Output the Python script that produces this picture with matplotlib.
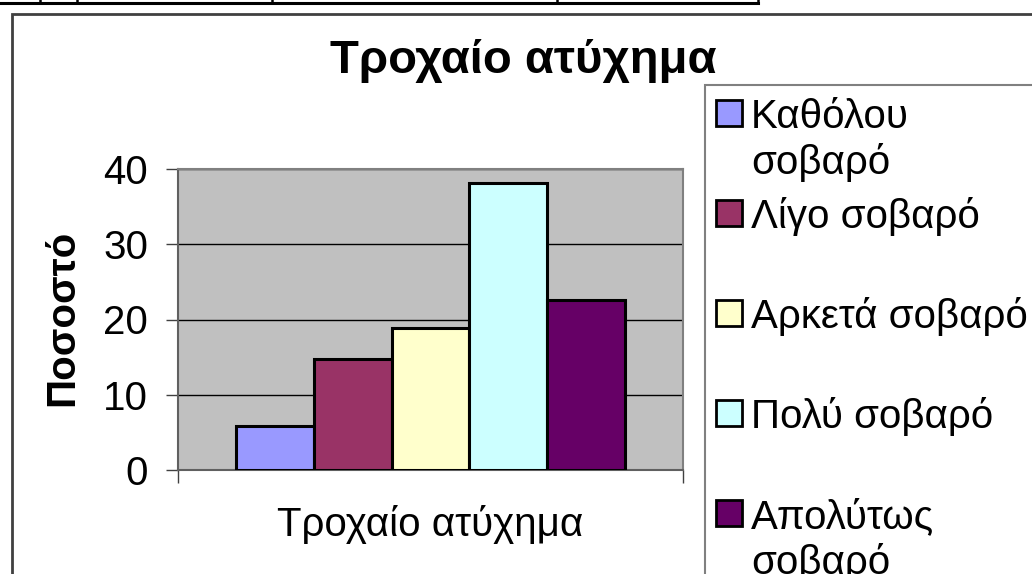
import matplotlib
matplotlib.use("Agg")
import matplotlib.pyplot as plt
from matplotlib.patches import Rectangle
from matplotlib.lines import Line2D

plt.rcParams['font.family'] = ['Liberation Sans', 'DejaVu Sans']

# data
category = "Τροχαίο ατύχημα"
series_labels = ["Καθόλου\nσοβαρό", "Λίγο σοβαρό", "Αρκετά σοβαρό", "Πολύ σοβαρό", "Απολύτως\nσοβαρό"]
series_values = [5.8, 14.7, 18.9, 38.1, 22.6]
series_colors = ["#9999FF", "#993366", "#FFFFCC", "#CCFFFF", "#660066"]
y_ticks = [0, 10, 20, 30, 40]

W, H = 1032, 574
fig = plt.figure(figsize=(W / 100, H / 100), dpi=100)

def fx(x):  # pixel -> figure fraction
    return x / W

def fy(y):
    return 1 - y / H

# plot area: 178..683 px wide, 169..470 px tall
ax = fig.add_axes([fx(178), fy(470), (683 - 178) / W, (470 - 169) / H])
ax.set_facecolor("#C0C0C0")

n = len(series_values)
pos = [i - (n - 1) / 2 for i in range(n)]
ax.bar(pos, series_values, width=1.0, color=series_colors, edgecolor="black",
       linewidth=2.2, zorder=3)

ax.set_xlim(-3.25, 3.25)
ax.set_ylim(0, 40)
ax.set_yticks(y_ticks)
ax.tick_params(axis="y", labelsize=29, length=8.5, width=1, pad=13, color="#404040")
ax.yaxis.grid(True, color="black", linewidth=1.0)
ax.set_axisbelow(True)

ax.set_xticks([-3.25, 3.25])
ax.set_xticklabels(["", ""])
ax.tick_params(axis="x", which="major", length=9.5, width=1, color="#404040")
ax.set_xticks([0], minor=True)
ax.set_xticklabels([category], minor=True, fontsize=29)
ax.tick_params(axis="x", which="minor", length=0, pad=25)

for side in ["top", "right"]:
    ax.spines[side].set_color("#808080")
    ax.spines[side].set_linewidth(1.5)
for side in ["left", "bottom"]:
    ax.spines[side].set_color("#606060")
    ax.spines[side].set_linewidth(1.5)

# titles
fig.text(fx(523), fy(73), category, fontsize=34, fontweight="bold",
         ha="center", va="baseline")
fig.text(fx(62), fy(318), "Ποσοστό", fontsize=29, fontweight="bold",
         rotation=90, ha="center", va="center")

# chart border and table lines above it
fig.patches.append(Rectangle((fx(12), fy(600)), fx(1100), fy(14) - fy(600),
                             transform=fig.transFigure, fill=False,
                             edgecolor="#404040", linewidth=2.0))
fig.lines.append(Line2D([0, fx(758)], [fy(3), fy(3)], transform=fig.transFigure,
                        color="black", linewidth=2.2))
for xv in [40, 77, 272, 557, 758]:
    fig.lines.append(Line2D([fx(xv), fx(xv)], [fy(3), 1], transform=fig.transFigure,
                            color="black", linewidth=1.8))

# legend box (runs off the right and bottom edges)
fig.patches.append(Rectangle((fx(705), fy(600)), fx(400), fy(85) - fy(600),
                             transform=fig.transFigure, fill=False,
                             edgecolor="#808080", linewidth=1.5))
for i, (lab, col) in enumerate(zip(series_labels, series_colors)):
    yc = 113 + 100 * i
    fig.patches.append(Rectangle((fx(716), fy(yc + 13)), 26 / W, 26 / H,
                                 transform=fig.transFigure, facecolor=col,
                                 edgecolor="black", linewidth=2.0))
    for j, line in enumerate(lab.split("\n")):
        fig.text(fx(751), fy(yc + 45 * j), line, fontsize=29,
                 ha="left", va="center_baseline")

fig.savefig("out.png", dpi=100)
